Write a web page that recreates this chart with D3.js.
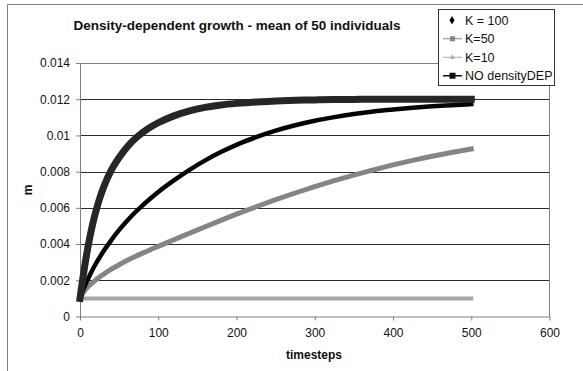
<!DOCTYPE html>
<html>
<head>
<meta charset="utf-8">
<script src="https://cdn.jsdelivr.net/npm/d3@7"></script>
<style>
  body { margin: 0; background: #fff; }
  svg { display: block; font-family: Arial, 'Liberation Sans', sans-serif; }
</style>
</head>
<body>
<div id="chart"></div>
<script>
// values (m at each timestep)
var timesteps = [0, 5, 10, 15, 20, 25, 30, 40, 50, 60, 70, 80, 90, 100, 120, 140, 160, 180, 200,
  225, 250, 275, 300, 325, 350, 375, 400, 425, 450, 475, 500]

var k100 = [0.001, 0.00158, 0.00205, 0.0025, 0.0029, 0.00326, 0.0036, 0.00422, 0.00478, 0.00528, 0.00573,
  0.00614, 0.00652, 0.00688, 0.00752, 0.0081, 0.00862, 0.00908, 0.00948, 0.0099, 0.01026, 0.01056, 0.01081,
  0.01101, 0.01118, 0.01132, 0.01143, 0.01153, 0.01161, 0.01167, 0.01173]

var k50 = [0.001, 0.00138, 0.00163, 0.00183, 0.00201, 0.00218, 0.00233, 0.00261, 0.00286, 0.00309, 0.0033,
  0.0035, 0.00369, 0.00387, 0.00424, 0.0046, 0.00496, 0.00531, 0.00565, 0.00606, 0.00645, 0.00682, 0.00717,
  0.0075, 0.00781, 0.0081, 0.00837, 0.00862, 0.00885, 0.00906, 0.00925]

var k10 = [0.001, 0.001, 0.001, 0.001, 0.001, 0.001, 0.001, 0.001, 0.001, 0.001, 0.001,
  0.001, 0.001, 0.001, 0.001, 0.001, 0.001, 0.001, 0.001, 0.001, 0.001, 0.001, 0.001,
  0.001, 0.001, 0.001, 0.001, 0.001, 0.001, 0.001, 0.001]

var noDensity = [0.001, 0.0025, 0.0038, 0.00488, 0.00576, 0.0065, 0.00712, 0.00808, 0.00878, 0.00935, 0.0098,
  0.01016, 0.01046, 0.0107, 0.01108, 0.01136, 0.01155, 0.01168, 0.01177, 0.01185, 0.0119, 0.01194, 0.01196,
  0.01198, 0.01199, 0.012, 0.012, 0.012, 0.012, 0.012, 0.012]

var seriesNames = ['K = 100', 'K=50', 'K=10', 'NO densityDEP']

var xTicks = [0, 100, 200, 300, 400, 500, 600]
var yTicks = [0, 0.002, 0.004, 0.006, 0.008, 0.01, 0.012, 0.014]
var yTickLabels = ['0', '0.002', '0.004', '0.006', '0.008', '0.01', '0.012', '0.014']

// Set up margin/height/width

var margin = { top: 63, left: 80, right: 33.5, bottom: 54.5 }
var width = 583 - margin.left - margin.right
var height = 371 - margin.top - margin.bottom

var svg = d3
  .select('#chart')
  .append('svg')
  .attr('width', 583)
  .attr('height', 371)

// chart area border (only top and left are in the frame)
svg
  .append('path')
  .attr('d', 'M7.5,371V4.5H583')
  .attr('fill', 'none')
  .attr('stroke', '#808080')

var g = svg
  .append('g')
  .attr('transform', 'translate(' + margin.left + ',' + margin.top + ')')

// scales

var xPositionScale = d3.scaleLinear().domain([0, 600]).range([0, width])
var yPositionScale = d3.scaleLinear().domain([0, 0.014]).range([height, 0])

// gridlines

g.selectAll('.grid')
  .data(yTicks.slice(1, -1))
  .enter()
  .append('line')
  .attr('class', 'grid')
  .attr('x1', 0)
  .attr('x2', width)
  .attr('y1', d => Math.round(yPositionScale(d)) + 0.5)
  .attr('y2', d => Math.round(yPositionScale(d)) + 0.5)
  .attr('stroke', '#2b2b2b')

// plot area border, top and right
g.append('path')
  .attr('d', 'M0,0.5H' + width + 'V' + height)
  .attr('fill', 'none')
  .attr('stroke', '#808080')

// axes

var xAxis = d3
  .axisBottom(xPositionScale)
  .tickValues(xTicks)
  .tickSize(4)
  .tickPadding(8)
  .tickSizeOuter(0)

var yAxis = d3
  .axisLeft(yPositionScale)
  .tickValues(yTicks)
  .tickFormat((d, i) => yTickLabels[i])
  .tickSize(4)
  .tickPadding(6)
  .tickSizeOuter(0)

g.append('g')
  .attr('class', 'axis x-axis')
  .attr('transform', 'translate(0,' + height + ')')
  .call(xAxis)

g.append('g')
  .attr('class', 'axis y-axis')
  .call(yAxis)

g.selectAll('.axis path, .axis line').attr('stroke', '#808080')
g.selectAll('.axis text')
  .attr('font-size', 12)
  .attr('fill', '#111')
  .attr('font-family', 'Arial, Liberation Sans, sans-serif')

// lines

var seriesValues = [k100, k50, k10, noDensity]
var seriesStyle = [
  { color: '#050505', width: 4.5 },
  { color: '#858585', width: 5 },
  { color: '#a8a8a8', width: 4 },
  { color: '#262626', width: 7 }
]

var line = d3
  .line()
  .x((d, i) => xPositionScale(timesteps[i]))
  .y(d => yPositionScale(d))
  .curve(d3.curveMonotoneX)

// K=10 under the others, NO densityDEP on top
var drawOrder = [2, 1, 0, 3]
drawOrder.forEach(function(s) {
  g.append('path')
    .datum(seriesValues[s])
    .attr('d', line)
    .attr('fill', 'none')
    .attr('stroke', seriesStyle[s].color)
    .attr('stroke-width', seriesStyle[s].width)
    .attr('stroke-linecap', 'square')
    .attr('stroke-linejoin', 'round')
})

// Title

svg
  .append('text')
  .attr('x', 237)
  .attr('y', 30)
  .attr('text-anchor', 'middle')
  .attr('font-size', 13.5)
  .attr('font-weight', 'bold')
  .attr('fill', '#111')
  .text('Density-dependent growth - mean of 50 individuals')

// axis titles

svg
  .append('text')
  .attr('x', 314)
  .attr('y', 359)
  .attr('text-anchor', 'middle')
  .attr('font-size', 12)
  .attr('font-weight', 'bold')
  .attr('fill', '#111')
  .text('timesteps')

svg
  .append('text')
  .attr('transform', 'translate(32,190) rotate(-90)')
  .attr('text-anchor', 'middle')
  .attr('font-size', 12)
  .attr('font-weight', 'bold')
  .attr('fill', '#111')
  .text('m')

// Legend

var legend = svg.append('g').attr('transform', 'translate(438,9)')

legend
  .append('rect')
  .attr('x', 0.5)
  .attr('y', 0.5)
  .attr('width', 116)
  .attr('height', 76)
  .attr('fill', '#fff')
  .attr('stroke', '#333')

var rowY = d3.scaleBand().domain(seriesNames).range([2, 76])

var rows = legend
  .selectAll('.legend-row')
  .data(seriesNames)
  .enter()
  .append('g')
  .attr('class', 'legend-row')
  .attr('transform', d => 'translate(0,' + (rowY(d) + rowY.bandwidth() / 2) + ')')

rows.each(function(d, i) {
  var row = d3.select(this)
  var c = seriesStyle[i].color
  if (i > 0) {
    row
      .append('line')
      .attr('x1', 5)
      .attr('x2', 24)
      .attr('stroke', i === 3 ? '#111' : c)
      .attr('stroke-width', i === 3 ? 1.5 : 1)
  }
  if (i === 0) {
    row.append('path').attr('d', d3.symbol(d3.symbolDiamond, 22)()).attr('transform', 'translate(14,0)').attr('fill', '#000')
  } else if (i === 1) {
    row.append('rect').attr('x', 12).attr('y', -2.5).attr('width', 5).attr('height', 5).attr('fill', c)
  } else if (i === 2) {
    row.append('path').attr('d', d3.symbol(d3.symbolTriangle, 10)()).attr('transform', 'translate(14.5,0)').attr('fill', c)
  } else {
    row.append('rect').attr('x', 11.5).attr('y', -3).attr('width', 6).attr('height', 6).attr('fill', '#111')
  }
  row
    .append('text')
    .attr('x', 27)
    .attr('dy', '0.35em')
    .attr('font-size', 12.5)
    .attr('fill', '#111')
    .text(d)
})
</script>
</body>
</html>
